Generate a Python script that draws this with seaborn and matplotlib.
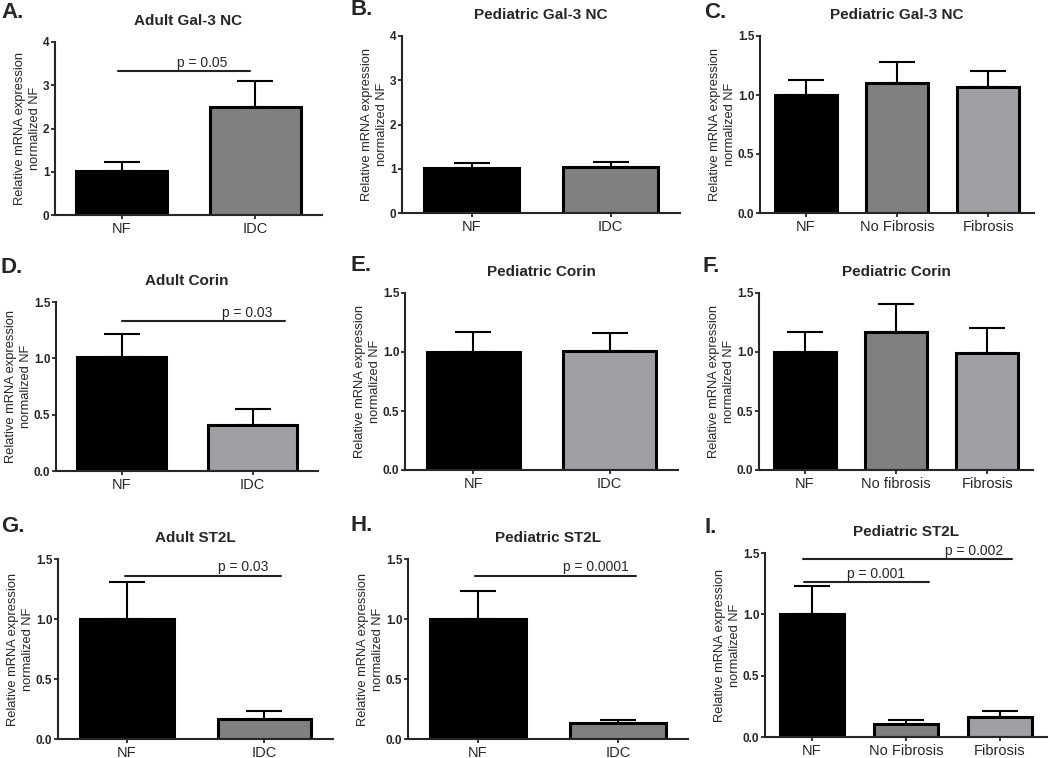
import matplotlib
matplotlib.use('Agg')
import matplotlib.pyplot as plt
import numpy as np
import seaborn as sns

# ---- data ----
titles = ['Adult Gal-3 NC', 'Pediatric Gal-3 NC', 'Pediatric Gal-3 NC',
          'Adult Corin', 'Pediatric Corin', 'Pediatric Corin',
          'Adult ST2L', 'Pediatric ST2L', 'Pediatric ST2L']
letters = ['A.', 'B.', 'C.', 'D.', 'E.', 'F.', 'G.', 'H.', 'I.']

groups = [['NF', 'IDC'], ['NF', 'IDC'], ['NF', 'No Fibrosis', 'Fibrosis'],
          ['NF', 'IDC'], ['NF', 'IDC'], ['NF', 'No fibrosis', 'Fibrosis'],
          ['NF', 'IDC'], ['NF', 'IDC'], ['NF', 'No Fibrosis', 'Fibrosis']]

means = [[1.02, 2.49], [1.01, 1.05], [1.00, 1.10, 1.07],
         [1.01, 0.41], [1.00, 1.01], [1.00, 1.17, 0.99],
         [1.00, 0.17], [1.00, 0.13], [1.00, 0.11, 0.16]]

sems = [[0.21, 0.61], [0.11, 0.10], [0.13, 0.18, 0.13],
        [0.21, 0.14], [0.17, 0.15], [0.17, 0.24, 0.21],
        [0.31, 0.06], [0.23, 0.03], [0.23, 0.03, 0.05]]

# p-value labels and bracket heights
p_labels = [['p = 0.05'], [], [], ['p = 0.03'], [], [],
            ['p = 0.03'], ['p = 0.0001'], ['p = 0.001', 'p = 0.002']]
p_heights = [[3.33], [], [], [1.33], [], [],
             [1.36], [1.36], [1.26, 1.45]]

ymax = [4, 4, 1.5, 1.5, 1.5, 1.5, 1.5, 1.5, 1.5]

# ---- styling / layout ----
BLACK, DARK, LIGHT = '#000000', '#808080', '#a0a0a4'
colors = [[BLACK, DARK], [BLACK, DARK], [BLACK, DARK, LIGHT],
          [BLACK, LIGHT], [BLACK, LIGHT], [BLACK, DARK, LIGHT],
          [BLACK, DARK], [BLACK, DARK], [BLACK, DARK, LIGHT]]

# axes boxes in pixels: left, top, right, bottom
boxes = [(55, 42, 322, 215), (402, 36, 680, 213), (760, 36, 1034, 213),
         (56, 302, 318, 471), (405, 293, 678, 470), (759, 293, 1033, 470),
         (58, 559, 333, 739), (408, 559, 688, 739), (765, 553, 1047, 737)]
letter_pos = [(1, 18), (350, 15), (704, 18), (1, 273), (350, 271), (702, 272),
              (1, 532), (350, 531), (705, 533)]
# bracket start, end and text centre, in category units
bracket_x = [[(-0.03, 0.96, 0.60)], [], [],
             [(0.0, 1.25, 0.96)], [], [],
             [(-0.01, 1.12, 0.85)], [(-0.02, 1.13, 0.84)],
             [(-0.08, 1.24, 0.68), (-0.10, 2.13, 1.72)]]

W, H = 1050, 758
sns.set_style("ticks")
plt.rcParams['font.family'] = ['Liberation Sans', 'DejaVu Sans']

fig = plt.figure(figsize=(W / 100, H / 100), dpi=100)

for i in range(9):
    l, t, r, b = boxes[i]
    ax = fig.add_axes([l / W, 1 - b / H, (r - l) / W, (b - t) / H])
    n = len(groups[i])
    sns.barplot(x=groups[i], y=means[i], hue=groups[i], palette=colors[i],
                width=0.68, edgecolor='black', linewidth=2.2, legend=False,
                saturation=1, ax=ax, zorder=2)
    ax.errorbar(np.arange(n), means[i], yerr=[np.zeros(n), sems[i]], fmt='none',
                ecolor='black', elinewidth=1.5, capsize=13, capthick=1.5, zorder=1)

    ax.set_xlim(-0.5, n - 0.5)
    ax.set_ylim(0, ymax[i])
    if ymax[i] == 4:
        ax.set_yticks([0, 1, 2, 3, 4])
        ax.set_yticklabels(['0', '1', '2', '3', '4'])
    else:
        ax.set_yticks([0, 0.5, 1.0, 1.5])
        ax.set_yticklabels(['0.0', '0.5', '1.0', '1.5'])
    for lab in ax.get_yticklabels():
        lab.set_fontweight('bold')
        lab.set_fontsize(8.5)
    ax.tick_params(axis='y', length=3, width=1.3, pad=1)
    ax.tick_params(axis='x', length=3, width=1.3, labelsize=10.5, pad=2)

    sns.despine(ax=ax)
    for side in ['left', 'bottom']:
        ax.spines[side].set_linewidth(1.5)

    ax.set_ylabel('Relative mRNA expression\nnormalized NF', fontsize=9.3,
                  linespacing=1.3, labelpad=1.5)
    ax.set_title(titles[i], fontsize=11, fontweight='bold', pad=12)

    for label, yb, (x0, x1, tx) in zip(p_labels[i], p_heights[i], bracket_x[i]):
        ax.plot([x0, x1], [yb, yb], color='#222222', lw=1.5, clip_on=False)
        ax.text(tx, yb + ymax[i] * 0.008, label, ha='center', va='bottom', fontsize=10)

    lx, ly = letter_pos[i]
    fig.text(lx / W, 1 - ly / H, letters[i], fontsize=16, fontweight='bold',
             ha='left', va='baseline')

fig.savefig('out.png', dpi=100)
